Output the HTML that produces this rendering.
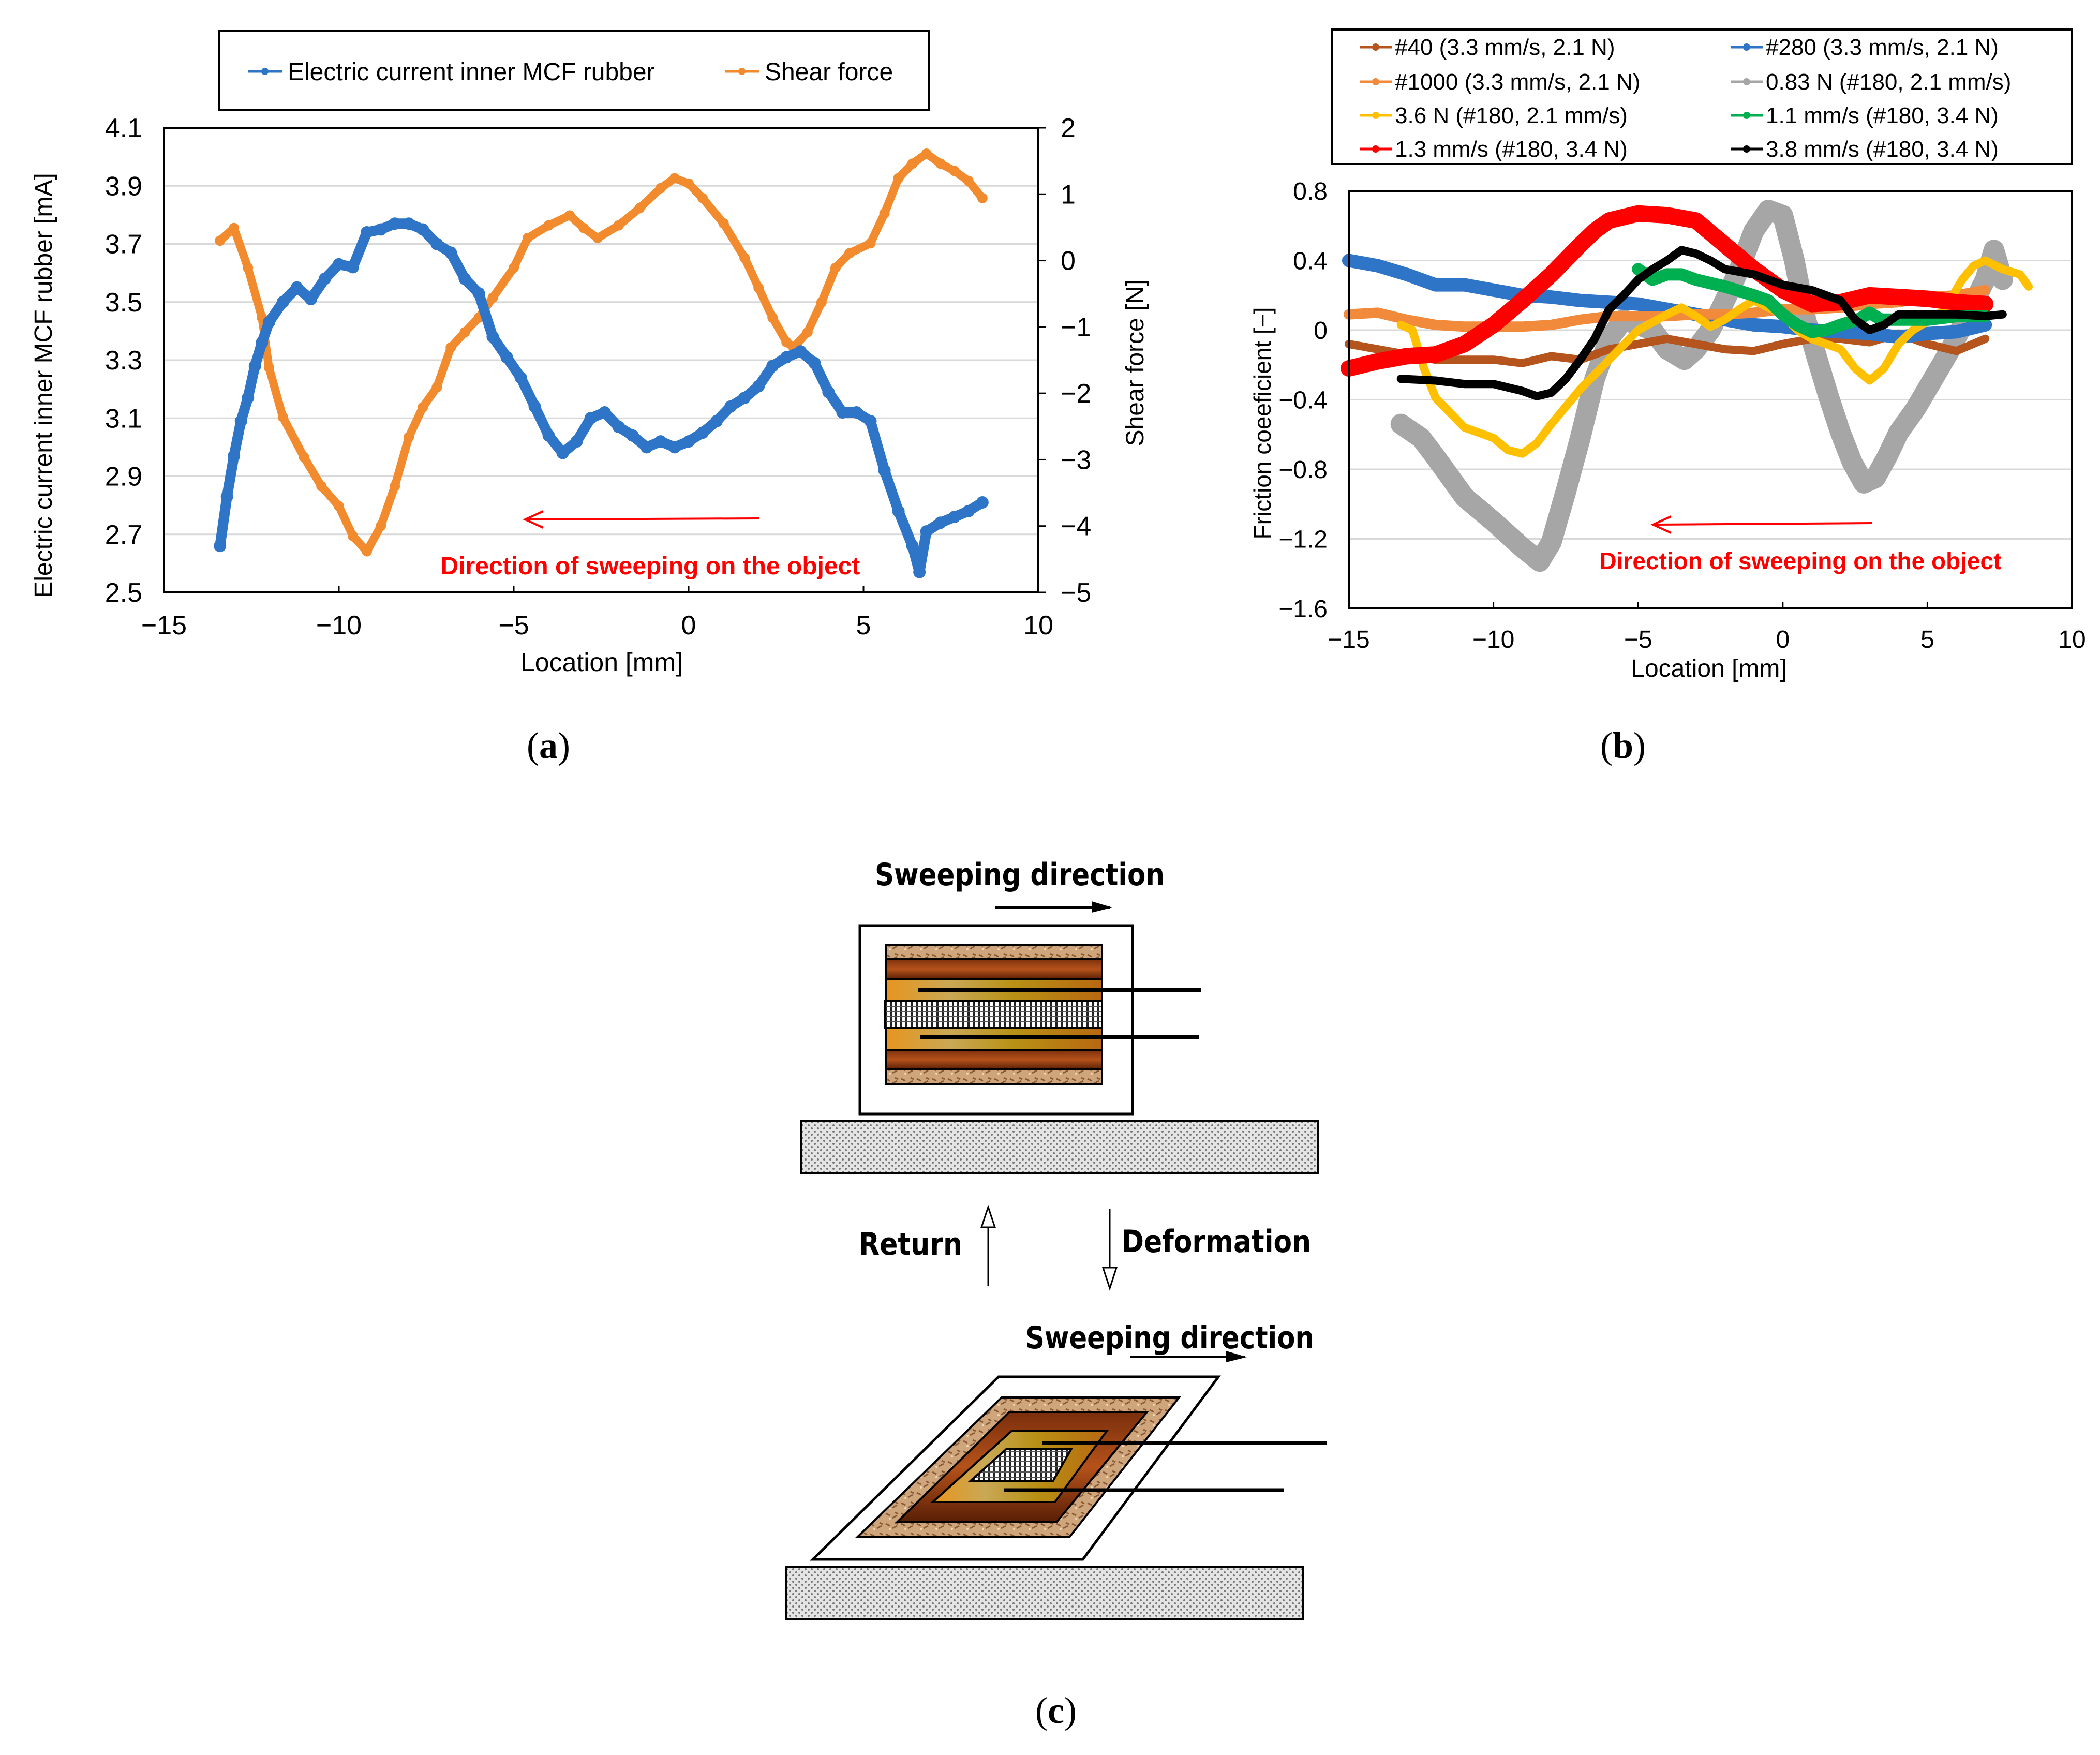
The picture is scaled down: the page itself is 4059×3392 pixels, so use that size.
<!DOCTYPE html>
<html><head><meta charset="utf-8"><style>
html,body{margin:0;padding:0;background:#fff;}
svg{display:block;font-family:"Liberation Sans",sans-serif;}
</style></head><body>
<svg id="fig" width="4059" height="3392" viewBox="0 0 4059 3392" xmlns="http://www.w3.org/2000/svg">
<defs>
<pattern id="mesh" width="10" height="10" patternUnits="userSpaceOnUse"><rect width="10" height="10" fill="#fff"/><rect x="0" y="0" width="4" height="10" fill="#222"/><rect x="0" y="4" width="10" height="2" fill="#555"/></pattern>
<pattern id="plate" width="12" height="12" patternUnits="userSpaceOnUse"><rect width="12" height="12" fill="#e4e4e4"/><circle cx="3" cy="3" r="2" fill="#777"/><circle cx="9" cy="9" r="2" fill="#777"/></pattern>
<pattern id="sand" width="30" height="20" patternUnits="userSpaceOnUse"><rect width="30" height="20" fill="#cfa57c"/><path d="M2 5 l8 4 M15 14 l9 -5 M20 3 l6 3" stroke="#8a5a36" stroke-width="3"/><circle cx="10" cy="15" r="2" fill="#f0d8b8"/></pattern>
<linearGradient id="wood" x1="0" y1="0" x2="0" y2="1"><stop offset="0" stop-color="#7a2e0c"/><stop offset="0.5" stop-color="#b5521a"/><stop offset="1" stop-color="#5a1f06"/></linearGradient>
<linearGradient id="gold" x1="0" y1="0" x2="1" y2="0"><stop offset="0" stop-color="#e8951e"/><stop offset="0.3" stop-color="#c9a855"/><stop offset="0.6" stop-color="#b89014"/><stop offset="1" stop-color="#b86812"/></linearGradient>
</defs>

<g id="panelA">
<rect x="423" y="60" width="1372" height="153" fill="#fff" stroke="#000" stroke-width="4"/>
<g><line x1="480" y1="138" x2="545" y2="138" stroke="#2e75c8" stroke-width="5"/><circle cx="512" cy="138" r="7" fill="#2e75c8"/><text x="556" y="155" font-size="48">Electric current inner MCF rubber</text></g>
<g><line x1="1402" y1="138" x2="1467" y2="138" stroke="#f28a2e" stroke-width="5"/><circle cx="1434" cy="138" r="7" fill="#f28a2e"/><text x="1478" y="155" font-size="48">Shear force</text></g>
<g id="gridA"></g>
<g id="seriesA"></g>
<rect x="317" y="247" width="1690" height="898" fill="none" stroke="#000" stroke-width="4"/>
<g id="ticksA" font-size="52"></g>
<text x="1163" y="1297" font-size="50" text-anchor="middle">Location [mm]</text>
<text transform="translate(100,745) rotate(-90)" font-size="48" text-anchor="middle">Electric current inner MCF rubber [mA]</text>
<text transform="translate(2210,701) rotate(-90)" font-size="48" text-anchor="middle">Shear force [N]</text>
<g><line x1="1467" y1="1002" x2="1020" y2="1004" stroke="#f00" stroke-width="4"/><path d="M1050 988 L1015 1004 L1050 1020" fill="none" stroke="#f00" stroke-width="4"/></g>
<text x="1257" y="1110" font-size="48" font-weight="bold" fill="#f00" text-anchor="middle">Direction of sweeping on the object</text>
<text x="1060" y="1465" font-size="72" font-family="Liberation Serif,serif" text-anchor="middle">(<tspan font-weight="bold">a</tspan>)</text>
</g>

<g id="panelB">
<rect x="2574" y="57" width="1431" height="260" fill="#fff" stroke="#000" stroke-width="4"/>
<g id="legendB" font-size="44"></g>
<g id="gridB"></g>
<g id="seriesB"></g>
<rect x="2607" y="369" width="1398" height="807" fill="none" stroke="#000" stroke-width="4"/>
<g id="ticksB" font-size="48"></g>
<text x="3303" y="1308" font-size="48" text-anchor="middle">Location [mm]</text>
<text transform="translate(2456,818) rotate(-90)" font-size="46" text-anchor="middle">Friction coeeficient [−]</text>
<g><line x1="3618" y1="1011" x2="3200" y2="1014" stroke="#f00" stroke-width="4"/><path d="M3230 998 L3195 1014 L3230 1030" fill="none" stroke="#f00" stroke-width="4"/></g>
<text x="3480" y="1100" font-size="46" font-weight="bold" fill="#f00" text-anchor="middle">Direction of sweeping on the object</text>
<text x="3137" y="1465" font-size="72" font-family="Liberation Serif,serif" text-anchor="middle">(<tspan font-weight="bold">b</tspan>)</text>
</g>

<g id="panelC">
<text x="1691" y="1711" font-size="60" font-weight="bold" font-family="DejaVu Sans,sans-serif" textLength="560" lengthAdjust="spacingAndGlyphs">Sweeping direction</text>
<g><line x1="1924" y1="1754" x2="2146" y2="1754" stroke="#000" stroke-width="4"/><path d="M2110 1742 L2150 1754 L2110 1764 Z" fill="#000"/></g>
<rect x="1662" y="1789" width="527" height="364" fill="#fff" stroke="#000" stroke-width="5"/>
<g stroke="#000" stroke-width="4">
<rect x="1712" y="1827" width="418" height="26" fill="url(#sand)"/>
<rect x="1712" y="1853" width="418" height="40" fill="url(#wood)"/>
<rect x="1712" y="1893" width="418" height="41" fill="url(#gold)"/>
<rect x="1710" y="1934" width="420" height="53" fill="url(#mesh)"/>
<rect x="1712" y="1987" width="418" height="42" fill="url(#gold)"/>
<rect x="1712" y="2029" width="418" height="38" fill="url(#wood)"/>
<rect x="1712" y="2067" width="418" height="29" fill="url(#sand)"/>
</g>
<line x1="1774" y1="1913" x2="2322" y2="1913" stroke="#000" stroke-width="8"/>
<line x1="1779" y1="2004" x2="2318" y2="2004" stroke="#000" stroke-width="8"/>
<rect x="1548" y="2166" width="1000" height="101" fill="url(#plate)" stroke="#000" stroke-width="4"/>
<text x="1660" y="2425" font-size="60" font-weight="bold" font-family="DejaVu Sans,sans-serif" textLength="200" lengthAdjust="spacingAndGlyphs">Return</text>
<g fill="#fff" stroke="#000" stroke-width="3"><line x1="1910" y1="2485" x2="1910" y2="2345"/><path d="M1897 2372 L1910 2333 L1923 2372 Z"/></g>
<g fill="#fff" stroke="#000" stroke-width="3"><line x1="2145" y1="2337" x2="2145" y2="2475"/><path d="M2132 2450 L2145 2490 L2158 2450 Z"/></g>
<text x="2168" y="2420" font-size="60" font-weight="bold" font-family="DejaVu Sans,sans-serif" textLength="366" lengthAdjust="spacingAndGlyphs">Deformation</text>
<text x="1982" y="2606" font-size="60" font-weight="bold" font-family="DejaVu Sans,sans-serif" textLength="558" lengthAdjust="spacingAndGlyphs">Sweeping direction</text>
<g><line x1="2184" y1="2623" x2="2406" y2="2623" stroke="#000" stroke-width="4"/><path d="M2370 2611 L2410 2623 L2370 2633 Z" fill="#000"/></g>
<polygon points="1930,2661 2355,2661 2093,3014 1571,3014" fill="#fff" stroke="#000" stroke-width="5"/>
<g stroke="#000" stroke-width="4">
<polygon points="1936,2701 2279,2701 2067,2971 1657,2971" fill="url(#sand)"/>
<polygon points="1951,2729 2217,2729 2043,2941 1735,2941" fill="url(#wood)"/>
<polygon points="1955,2766 2139,2766 2039,2903 1803,2903" fill="url(#gold)"/>
<polygon points="1946,2800 2071,2800 2035,2863 1875,2863" fill="url(#mesh)"/>
</g>
<line x1="2015" y1="2789" x2="2565" y2="2789" stroke="#000" stroke-width="7"/>
<line x1="1940" y1="2880" x2="2481" y2="2880" stroke="#000" stroke-width="7"/>
<rect x="1520" y="3029" width="998" height="100" fill="url(#plate)" stroke="#000" stroke-width="4"/>
<text x="2041" y="3330" font-size="72" font-family="Liberation Serif,serif" text-anchor="middle">(<tspan font-weight="bold">c</tspan>)</text>
</g>
</svg>
<script>
const aCurX = [-13.4,-13.2,-13.0,-12.8,-12.6,-12.4,-12.2,-12.0,-11.6,-11.2,-10.8,-10.4,-10.0,-9.6,-9.2,-8.8,-8.4,-8.0,-7.6,-7.2,-6.8,-6.4,-6.0,-5.6,-5.2,-4.8,-4.4,-4.0,-3.6,-3.2,-2.8,-2.4,-2.0,-1.6,-1.2,-0.8,-0.4,0,0.4,0.8,1.2,1.6,2.0,2.4,2.8,3.2,3.6,4.0,4.4,4.8,5.2,5.6,6.0,6.4,6.6,6.8,7.2,7.6,8.0,8.4];
const aCurY = [2.66,2.83,2.97,3.09,3.17,3.28,3.36,3.43,3.50,3.55,3.51,3.58,3.63,3.62,3.74,3.75,3.77,3.77,3.75,3.70,3.67,3.58,3.53,3.38,3.31,3.24,3.14,3.04,2.98,3.02,3.10,3.12,3.07,3.04,3.00,3.02,3.00,3.02,3.05,3.09,3.14,3.17,3.21,3.28,3.31,3.33,3.29,3.19,3.12,3.12,3.09,2.92,2.78,2.66,2.57,2.71,2.74,2.76,2.78,2.81];
const aShearX = [-13.4,-13.0,-12.6,-12.2,-12.0,-11.6,-11.0,-10.5,-10.0,-9.6,-9.2,-8.8,-8.4,-8.0,-7.6,-7.2,-6.8,-6.4,-6.0,-5.6,-5.0,-4.6,-4.0,-3.4,-3.0,-2.6,-2.0,-1.4,-0.8,-0.4,0,0.4,1.0,1.6,2.0,2.4,2.8,3.0,3.4,3.8,4.2,4.6,5.2,5.6,6.0,6.4,6.8,7.2,7.6,8.0,8.4];
const aShearY = [0.30,0.49,-0.11,-0.86,-1.61,-2.36,-2.96,-3.40,-3.70,-4.15,-4.38,-4.00,-3.40,-2.66,-2.21,-1.91,-1.31,-1.08,-0.86,-0.56,-0.11,0.34,0.53,0.68,0.49,0.34,0.53,0.79,1.09,1.24,1.16,0.94,0.56,0.04,-0.41,-0.86,-1.23,-1.31,-1.08,-0.63,-0.11,0.11,0.26,0.71,1.24,1.46,1.61,1.46,1.35,1.20,0.94];
const aXTicks = [-15,-10,-5,0,5,10];
const aLeftTicks = [4.1,3.9,3.7,3.5,3.3,3.1,2.9,2.7,2.5];
const aRightTicks = [2,1,0,-1,-2,-3,-4,-5];

const bNames = ["#40 (3.3 mm/s, 2.1  N)","#280 (3.3 mm/s, 2.1  N)","#1000 (3.3 mm/s, 2.1  N)","0.83 N (#180, 2.1 mm/s)","3.6 N (#180, 2.1 mm/s)","1.1 mm/s (#180, 3.4 N)","1.3 mm/s (#180, 3.4 N)","3.8 mm/s (#180, 3.4 N)"];
const bColors = ["#b5541c","#2e75c8","#f28a3c","#a6a6a6","#ffc000","#00b050","#ff0000","#000000"];
const bX0 = [-15,-14,-13,-12,-11,-10,-9,-8,-7,-6,-5,-4,-3,-2,-1,0,1,2,3,4,5,6,7];
const bY0 = [-0.08,-0.11,-0.14,-0.17,-0.17,-0.17,-0.19,-0.15,-0.17,-0.11,-0.08,-0.05,-0.08,-0.11,-0.12,-0.08,-0.05,-0.05,-0.07,-0.02,-0.08,-0.12,-0.05];
const bX1 = [-15,-14,-13,-12,-11,-10,-9,-8,-7,-6,-5,-4,-3,-2,-1,0,1,2,3,4,5,6,7];
const bY1 = [0.40,0.37,0.32,0.26,0.26,0.23,0.20,0.19,0.17,0.16,0.15,0.12,0.09,0.06,0.03,0.02,0.00,-0.01,-0.02,-0.04,-0.02,-0.01,0.03];
const bX2 = [-15,-14,-13,-12,-11,-10,-9,-8,-7,-6,-5,-4,-3,-2,-1,0,1,2,3,4,5,6,7];
const bY2 = [0.09,0.10,0.06,0.03,0.02,0.02,0.02,0.03,0.06,0.08,0.08,0.08,0.09,0.09,0.10,0.12,0.12,0.13,0.15,0.16,0.19,0.20,0.23];
const bX3 = [-13.2,-12.5,-12,-11,-10,-9,-8.4,-8,-7.5,-7,-6.5,-6,-5.5,-5,-4.5,-4,-3.4,-3,-2.5,-2,-1.5,-1,-0.5,0,0.4,0.8,1.2,1.6,2,2.4,2.8,3.2,3.6,4,4.6,5.2,5.8,6.4,7,7.3,7.6];
const bY3 = [-0.54,-0.62,-0.73,-0.96,-1.10,-1.25,-1.33,-1.22,-0.93,-0.62,-0.28,-0.05,0.06,0.03,0.00,-0.11,-0.17,-0.11,0.00,0.17,0.35,0.57,0.69,0.66,0.40,0.06,-0.17,-0.39,-0.59,-0.76,-0.88,-0.85,-0.73,-0.59,-0.45,-0.28,-0.11,0.09,0.29,0.46,0.29];
const bX4 = [-13.2,-12.8,-12.4,-12,-11,-10,-9.5,-9,-8.5,-8,-7,-6,-5,-4,-3.5,-3,-2.5,-2,-1.5,-1,0,0.5,1,2,2.5,3,3.5,4,4.5,5,5.6,6.2,6.6,7,7.6,8.2,8.5];
const bY4 = [0.03,0.00,-0.22,-0.39,-0.56,-0.62,-0.69,-0.71,-0.65,-0.54,-0.34,-0.17,0.00,0.09,0.13,0.08,0.02,0.06,0.12,0.17,0.09,0.00,-0.05,-0.11,-0.22,-0.29,-0.22,-0.08,0.00,0.05,0.12,0.29,0.37,0.40,0.35,0.32,0.25];
const bX5 = [-5,-4.5,-4,-3.5,-3,-2,-1,-0.5,0,0.5,1,1.5,2,2.6,3,3.4,4,5,6,7];
const bY5 = [0.35,0.29,0.32,0.32,0.29,0.25,0.20,0.17,0.09,0.03,-0.01,0.00,0.03,0.06,0.10,0.06,0.06,0.06,0.08,0.08];
const bX6 = [-15,-14,-13,-12,-11,-10,-9,-8,-7,-6.5,-6,-5,-4,-3,-2,-1,0,1,2,3,4,5,6,7];
const bY6 = [-0.22,-0.18,-0.15,-0.14,-0.08,0.03,0.17,0.32,0.49,0.57,0.63,0.67,0.66,0.63,0.49,0.35,0.23,0.15,0.16,0.20,0.19,0.18,0.16,0.15];
const bX7 = [-13.2,-12,-11,-10,-9,-8.5,-8,-7.5,-7,-6.5,-6,-5.5,-5,-4.5,-4,-3.5,-3,-2.5,-2,-1,0,1,2,2.5,3,3.5,4,5,6,7,7.6];
const bY7 = [-0.28,-0.29,-0.31,-0.31,-0.35,-0.38,-0.36,-0.28,-0.17,-0.05,0.12,0.20,0.29,0.35,0.40,0.46,0.44,0.40,0.35,0.32,0.26,0.23,0.17,0.06,0.00,0.03,0.09,0.09,0.09,0.08,0.09];
const bXTicks = [-15,-10,-5,0,5,10];
const bYTicks = [0.8,0.4,0,-0.4,-0.8,-1.2,-1.6];

const NS = "http://www.w3.org/2000/svg";
function mk(tag, attrs, parent){ const e=document.createElementNS(NS,tag); for(const k in attrs) e.setAttribute(k,attrs[k]); parent.appendChild(e); return e; }
function fmt(v){ return (v<0?"\u2212":"")+String(Math.abs(v)); }

const xA = v => 317 + (v+15)/25*1690;
const yL = v => 247 + (4.1-v)/1.6*898;
const yR = v => 247 + (2-v)/7*898;
const xB = v => 2607 + (v+15)/25*1398;
const yB = v => 369 + (0.8-v)/2.4*807;

const gA = document.getElementById('gridA'), tA = document.getElementById('ticksA');
aLeftTicks.forEach(v=>{
  const l = mk('line',{x1:317,x2:2007,y1:yL(v),y2:yL(v),stroke:'#d9d9d9','stroke-width':3},gA);
  
  
  const t = mk('text',{x:275,y:yL(v)+18,'text-anchor':'end'},tA); t.textContent=v.toFixed(1);
  
  
});
aRightTicks.forEach(v=>{
  mk('line',{x1:2007,x2:2022,y1:yR(v),y2:yR(v),stroke:'#000','stroke-width':3},tA);
  const t = mk('text',{x:2050,y:yR(v)+18,'text-anchor':'start'},tA); t.textContent=fmt(v);
  
  
});
aXTicks.forEach(v=>{
  mk('line',{x1:xA(v),x2:xA(v),y1:1145,y2:1132,stroke:'#000','stroke-width':3},tA);
  const t = mk('text',{x:xA(v),y:1226,'text-anchor':'middle'},tA); t.textContent=fmt(v);
  
  
});
const sA = document.getElementById('seriesA');
function drawSeries(parent, xs, ys, fx, fy, color, w, r, name){
  const g = mk('g',{},parent);
  
  
  const pts = xs.map((x,i)=>fx(x).toFixed(1)+','+fy(ys[i]).toFixed(1)).join(' ');
  mk('polyline',{points:pts,fill:'none',stroke:color,'stroke-width':w,'stroke-linejoin':'round','stroke-linecap':'round'},g);
  xs.forEach((x,i)=>{
    const c = mk('circle',{cx:fx(x),cy:fy(ys[i]),r:r,fill:color},g);
    
    
  });
}
drawSeries(sA, aShearX, aShearY, xA, yR, '#f28a2e', 16, 10, 'shear-force-series');
drawSeries(sA, aCurX, aCurY, xA, yL, '#2e75c8', 20, 12, 'current-series');

const gB = document.getElementById('gridB'), tB = document.getElementById('ticksB');
bYTicks.forEach(v=>{
  const l = mk('line',{x1:2607,x2:4005,y1:yB(v),y2:yB(v),stroke:'#d9d9d9','stroke-width':3},gB);
  
  
  const t = mk('text',{x:2566,y:yB(v)+17,'text-anchor':'end'},tB); t.textContent=fmt(v);
  
  
});
bXTicks.forEach(v=>{
  mk('line',{x1:xB(v),x2:xB(v),y1:1176,y2:1163,stroke:'#000','stroke-width':3},tB);
  const t = mk('text',{x:xB(v),y:1252,'text-anchor':'middle'},tB); t.textContent=fmt(v);
  
  
});
const sB = document.getElementById('seriesB');
const bXs=[bX0,bX1,bX2,bX3,bX4,bX5,bX6,bX7], bYs=[bY0,bY1,bY2,bY3,bY4,bY5,bY6,bY7];
const bW=[16,26,20,40,16,24,32,16];
const order=[3,0,1,2,4,6,5,7];
order.forEach(i=>drawSeries(sB,bXs[i],bYs[i],xB,yB,bColors[i],bW[i],7,'friction-series-'+(i+1)));
const lB = document.getElementById('legendB');
const rowsY=[91,158,223,288];
bNames.forEach((n,i)=>{
  const col=i%2, row=Math.floor(i/2);
  const x0 = col? 3345:2628, y=rowsY[row];
  const g = mk('g',{},lB);
  
  
  mk('line',{x1:x0,x2:x0+62,y1:y,y2:y,stroke:bColors[i],'stroke-width':5},g);
  mk('circle',{cx:x0+31,cy:y,r:7,fill:bColors[i]},g);
  const t = mk('text',{x:x0+68,y:y+15},g); t.textContent=n;
});
</script>
</body></html>
